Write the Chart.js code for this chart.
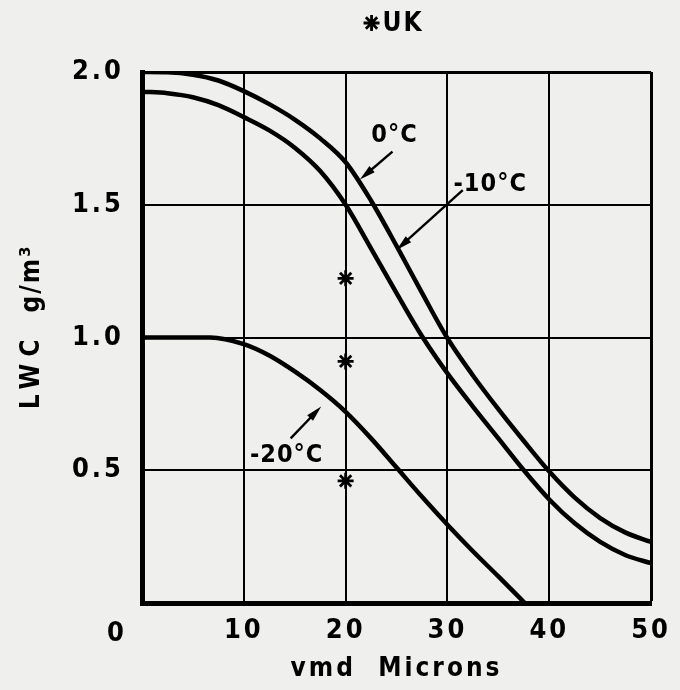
<!DOCTYPE html>
<html><head><meta charset="utf-8">
<script src="https://cdn.jsdelivr.net/npm/chart.js@4.4.1/dist/chart.umd.min.js"></script>
<style>html,body{margin:0;padding:0;background:#efefed;}#wrap{width:680px;height:690px;}</style>
</head><body><div id="wrap"><canvas id="c" width="680" height="690"></canvas></div>
<script>
// ---- data ----
const vmd0   = [0, 2.5, 5, 7.5, 10, 12.5, 15, 17.5, 20, 22.5, 25, 27.5, 30, 32.5, 35, 37.5, 40, 42.5, 45, 47.5, 50];
const lwc0   = [2.0, 1.999, 1.99, 1.968, 1.928, 1.879, 1.821, 1.75, 1.66, 1.515, 1.345, 1.168, 0.997, 0.857, 0.73, 0.61, 0.495, 0.397, 0.32, 0.265, 0.23];
const vmd10  = [0, 2.5, 5, 7.5, 10, 12.5, 15, 17.5, 20, 22.5, 25, 27.5, 30, 32.5, 35, 37.5, 40, 42.5, 45, 47.5, 50];
const lwc10  = [1.926, 1.92, 1.905, 1.875, 1.83, 1.78, 1.715, 1.627, 1.50, 1.335, 1.167, 1.005, 0.865, 0.74, 0.62, 0.5, 0.39, 0.30, 0.23, 0.18, 0.15];
const vmd20  = [0, 5, 6.7, 10, 12.5, 15, 17.5, 20, 22.5, 25, 27.5, 30, 32.5, 35, 37.6];
const lwc20  = [1.0, 1.0, 1.0, 0.975, 0.932, 0.872, 0.802, 0.72, 0.62, 0.51, 0.40, 0.295, 0.195, 0.10, 0.0];
const ukVmd  = [20, 20, 20];
const ukLwc  = [1.223, 0.91, 0.46];
const xTicks = [0, 10, 20, 30, 40, 50];
const yTicks = [0, 0.5, 1.0, 1.5, 2.0];
const curveLabels = [
  {text: '0°C',   x: 24.8, y: 1.76},
  {text: '-10°C', x: 34.2, y: 1.575},
  {text: '-20°C', x: 14.2, y: 0.555}
];
const arrows = [
  {x1: 24.6, y1: 1.70,  x2: 21.4, y2: 1.595},
  {x1: 31.5, y1: 1.555, x2: 25.0, y2: 1.33},
  {x1: 14.6, y1: 0.62,  x2: 17.6, y2: 0.74}
];
const xTitle = 'vmd  Microns';
const yTitleA = 'LWC';
const yTitleB = 'g/m³';
const legendText = 'UK';

const pts = (xs, ys) => xs.map((x, i) => ({x, y: ys[i]}));
const FONT = '"DejaVu Sans Condensed", "DejaVu Sans", sans-serif';
const BG = '#efefed';

function arrow(ctx, x1, y1, x2, y2) {
  const a = Math.atan2(y2 - y1, x2 - x1), L = 16, W = 4;
  ctx.beginPath(); ctx.moveTo(x1, y1);
  ctx.lineTo(x2 - L * 0.6 * Math.cos(a), y2 - L * 0.6 * Math.sin(a));
  ctx.lineWidth = 2.4; ctx.stroke();
  ctx.beginPath();
  ctx.moveTo(x2, y2);
  ctx.lineTo(x2 - L * Math.cos(a) + W * Math.sin(a), y2 - L * Math.sin(a) - W * Math.cos(a));
  ctx.lineTo(x2 - L * Math.cos(a) - W * Math.sin(a), y2 - L * Math.sin(a) + W * Math.cos(a));
  ctx.closePath(); ctx.fill();
}

const deco = {
  id: 'deco',
  beforeDraw(chart) {
    const ctx = chart.ctx;
    ctx.save(); ctx.fillStyle = BG; ctx.fillRect(0, 0, chart.width, chart.height); ctx.restore();
    ctx.letterSpacing = '3px';
  },
  afterDraw(chart) {
    const ctx = chart.ctx, xs = chart.scales.x, ys = chart.scales.y, ca = chart.chartArea;
    ctx.save();
    ctx.fillStyle = '#000'; ctx.strokeStyle = '#000';
    // curve labels
    ctx.letterSpacing = '1px';
    ctx.font = 'bold 25px ' + FONT;
    ctx.textAlign = 'center'; ctx.textBaseline = 'middle';
    curveLabels.forEach(l => ctx.fillText(l.text, xs.getPixelForValue(l.x), ys.getPixelForValue(l.y)));
    arrows.forEach(a => arrow(ctx, xs.getPixelForValue(a.x1), ys.getPixelForValue(a.y1),
                                   xs.getPixelForValue(a.x2), ys.getPixelForValue(a.y2)));
    // origin "0" label
    ctx.letterSpacing = '3px';
    ctx.font = 'bold 27px ' + FONT;
    ctx.fillText('0', xs.getPixelForValue(0) - 25, ca.bottom + 31);
    // x title
    ctx.font = 'bold 26px ' + FONT;
    ctx.letterSpacing = '3px';
    ctx.fillText(xTitle, (ca.left + ca.right) / 2, ca.bottom + 66);
    // y title
    ctx.save();
    ctx.translate(ca.left - 110, (ca.top + ca.bottom) / 2 - 17);
    ctx.rotate(-Math.PI / 2);
    ctx.letterSpacing = '7px';
    ctx.textAlign = 'right';
    ctx.fillText(yTitleA, -12, 0);
    ctx.letterSpacing = '2px';
    ctx.textAlign = 'left';
    ctx.fillText(yTitleB, 8, 0);
    ctx.restore();
    // legend "*UK"
    const cx = (ca.left + ca.right) / 2;
    ctx.lineWidth = 2.8;
    Chart.helpers.drawPoint(ctx, {pointStyle: 'star', radius: 8, rotation: 0, borderWidth: 2.8}, cx - 25, 23);
    ctx.letterSpacing = '2px';
    ctx.textAlign = 'left';
    ctx.font = 'bold 26px ' + FONT;
    ctx.fillText(legendText, cx - 14, 24);
    ctx.restore();
    ctx.letterSpacing = '0px';
  }
};

const line = (label, data) => ({
  label, data, type: 'line', borderColor: '#000', backgroundColor: '#000',
  borderWidth: 4.5, pointRadius: 0, cubicInterpolationMode: 'monotone', fill: false
});

new Chart(document.getElementById('c'), {
  type: 'scatter',
  data: {
    datasets: [
      line('0°C', pts(vmd0, lwc0)),
      line('-10°C', pts(vmd10, lwc10)),
      line('-20°C', pts(vmd20, lwc20)),
      {label: 'UK', data: pts(ukVmd, ukLwc), pointStyle: 'star', pointRadius: 8,
       borderColor: '#000', backgroundColor: '#000', pointBorderWidth: 2.8}
    ]
  },
  options: {
    responsive: false, animation: false,
    layout: {padding: {top: 72, right: 20, left: 0, bottom: 0}},
    plugins: {legend: {display: false}, tooltip: {enabled: false}},
    scales: {
      x: {
        type: 'linear', min: 0, max: 50,
        afterBuildTicks: s => { s.ticks = xTicks.map(v => ({value: v})); },
        afterFit: s => { s.height = 87; },
        grid: {color: '#000', lineWidth: c => (c.tick && c.tick.value === 50 ? 3 : 2), drawTicks: false},
        border: {display: true, color: '#000', width: 5},
        ticks: {color: '#000', padding: 12, maxRotation: 0, font: {family: FONT, size: 27, weight: 'bold'},
                callback: v => (v === 0 ? '' : String(v))}
      },
      y: {
        min: 0, max: 2,
        afterBuildTicks: s => { s.ticks = yTicks.map(v => ({value: v})); },
        afterFit: s => { s.width = 142; },
        grid: {color: '#000', lineWidth: c => (c.tick && c.tick.value === 2 ? 3 : 2), drawTicks: false},
        border: {display: true, color: '#000', width: 5},
        ticks: {color: '#000', padding: 18, font: {family: FONT, size: 27, weight: 'bold'},
                callback: v => (v === 0 ? '' : v.toFixed(1))}
      }
    }
  },
  plugins: [deco]
});
</script></body></html>
